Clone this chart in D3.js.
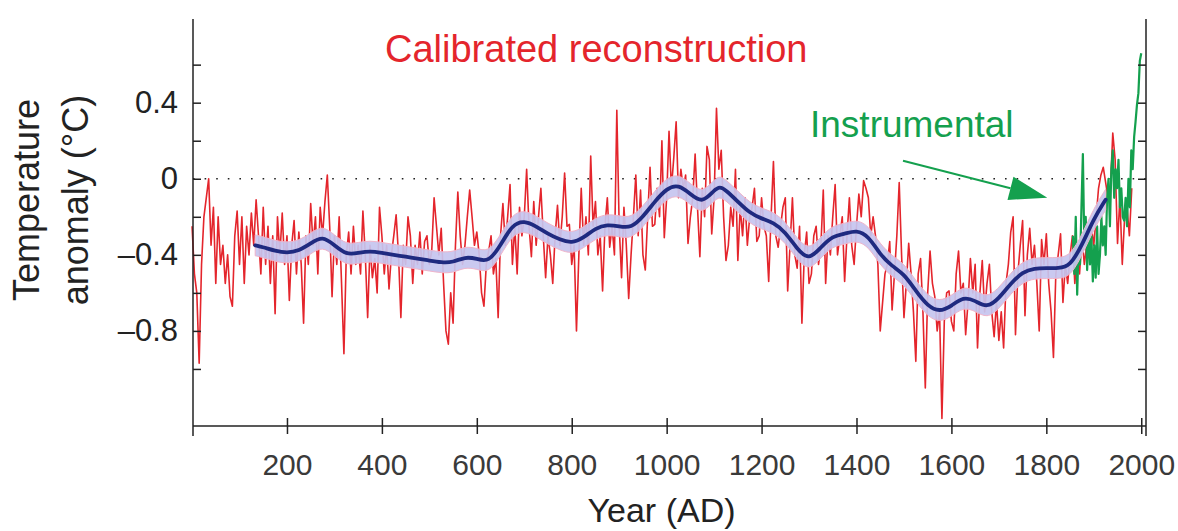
<!DOCTYPE html>
<html>
<head>
<meta charset="utf-8">
<script src="https://cdn.jsdelivr.net/npm/d3@7"></script>
<style>
  html, body { margin: 0; padding: 0; background: #ffffff; }
  svg { display: block; }
  text { font-family: "Liberation Sans", Arial, Helvetica, sans-serif; }
</style>
</head>
<body>
<svg id="chart" width="1178" height="531"></svg>
<script>
// ---------------- DATA ----------------
// Calibrated reconstruction (red), 5-year resolution starting at year 0
const reconStart = 0;
const reconStep = 5;
const reconValues = [
  -0.25,-0.50,-0.60,-0.97,-0.45,-0.20,-0.10, 0.00,-0.35,-0.15,
  -0.55,-0.20,-0.45,-0.35,-0.55,-0.40,-0.62,-0.67,-0.30,-0.17,
  -0.45,-0.20,-0.55,-0.25,-0.40,-0.18,-0.35,-0.11,-0.30,-0.50,
  -0.15,-0.45,-0.25,-0.55,-0.30,-0.71,-0.20,-0.40,-0.18,-0.45,
  -0.30,-0.64,-0.35,-0.22,-0.50,-0.28,-0.45,-0.76,-0.30,-0.45,
  -0.13,-0.35,-0.20,-0.50,-0.15,-0.30,-0.12, 0.02,-0.25,-0.62,
  -0.30,-0.45,-0.20,-0.55,-0.92,-0.40,-0.28,-0.50,-0.25,-0.45,
  -0.35,-0.50,-0.17,-0.40,-0.73,-0.35,-0.52,-0.42,-0.60,-0.15,
  -0.30,-0.50,-0.35,-0.58,-0.40,-0.30,-0.19,-0.40,-0.73,-0.35,
  -0.45,-0.20,-0.30,-0.55,-0.35,-0.45,-0.28,-0.50,-0.33,-0.30,
  -0.45,-0.38,-0.10,-0.25,-0.40,-0.26,-0.55,-0.80,-0.87,-0.60,
  -0.76,-0.35,-0.07,-0.30,-0.45,-0.35,-0.20,-0.06,-0.20,-0.35,
  -0.28,-0.40,-0.60,-0.67,-0.45,-0.38,-0.30,-0.50,-0.42,-0.73,
  -0.30,-0.13,-0.35,-0.20,-0.03,-0.45,-0.25,-0.50,-0.15,-0.30,
  -0.20, 0.05,-0.25,-0.41,-0.12,-0.35,-0.20,-0.05,-0.30,-0.52,
  -0.30,-0.40,-0.55,-0.30,-0.14,-0.35,-0.20, 0.03,-0.25,-0.24,
  -0.45,-0.35,-0.80,-0.40,-0.05,-0.35,-0.20,-0.40, 0.12,-0.25,
  -0.12,-0.40,-0.30,-0.59,-0.25,-0.10,-0.36,-0.25,-0.40, 0.36,
  -0.25,-0.52,-0.15,-0.35,-0.63,-0.40,-0.20, 0.02,-0.30,-0.06,
  -0.40,-0.48,-0.20, 0.06,-0.25,-0.24,-0.05,-0.20, 0.20,-0.31,
  -0.10, 0.25,-0.05, 0.11, 0.30,-0.10, 0.05,-0.05, 0.02,-0.34,
  -0.20,-0.10, 0.13,-0.15,-0.41,-0.05,-0.20, 0.17, 0.10,-0.29,
  -0.10, 0.37, 0.05, 0.15,-0.20,-0.43,-0.35,-0.15,-0.25, 0.05,
  -0.43,-0.15,-0.30,-0.10,-0.35,-0.20,-0.15,-0.05,-0.33,-0.30,
  -0.10,-0.25,-0.30,-0.54,-0.20, 0.09,-0.30,-0.36,-0.25,-0.15,
  -0.10,-0.59,-0.35,-0.10,-0.40,-0.47,-0.25,-0.76,-0.40,-0.28,
  -0.55,-0.50,-0.30,-0.25,-0.45,-0.35,-0.06,-0.55,-0.30,-0.40,
  -0.20,-0.03,-0.40,-0.30,-0.20,-0.54,-0.30,-0.10,-0.35,-0.45,
  -0.25,-0.08,-0.20,-0.01,-0.05,-0.10,-0.30,-0.20,-0.30,-0.45,
  -0.80,-0.65,-0.50,-0.45,-0.33,-0.69,-0.50,-0.30,-0.02,-0.40,
  -0.73,-0.55,-0.34,-0.50,-0.70,-0.96,-0.50,-0.42,-0.70,-1.10,
  -0.60,-0.38,-0.55,-0.62,-0.80,-0.70,-1.26,-0.75,-0.60,-0.59,
  -0.75,-0.80,-0.50,-0.38,-0.60,-0.55,-0.82,-0.65,-0.42,-0.60,
  -0.45,-0.89,-0.60,-0.43,-0.70,-0.55,-0.45,-0.70,-0.83,-0.65,
  -0.85,-0.70,-0.89,-0.55,-0.45,-0.28,-0.20,-0.82,-0.50,-0.35,
  -0.22,-0.72,-0.40,-0.26,-0.45,-0.35,-0.55,-0.80,-0.32,-0.45,
  -0.29,-0.55,-0.70,-0.94,-0.50,-0.40,-0.29,-0.65,-0.45,-0.55,
  -0.40,-0.30,-0.55,-0.40,-0.50,-0.30,-0.45,-0.35,-0.40,-0.25,
  -0.35,-0.20,-0.05, 0.02, 0.06,-0.02,-0.10,-0.05, 0.24, 0.10,
  -0.34,-0.10,-0.45,-0.20,-0.15,-0.30,-0.05
];

// Smoothed reconstruction (blue line) with its uncertainty band
const smoothYears = [133,150,175,200,225,250,275,300,325,350,375,400,425,450,475,500,525,550,575,600,
  625,650,675,700,725,750,775,800,825,850,875,900,925,950,975,1000,1025,1050,1075,1100,1112,1125,
  1150,1175,1200,1225,1250,1275,1300,1325,1350,1375,1400,1425,1450,1475,1500,1525,1550,1575,1600,
  1625,1650,1675,1700,1725,1750,1775,1800,1825,1850,1875,1900,1925];
const smoothValues = [-0.35,-0.36,-0.38,-0.39,-0.38,-0.34,-0.30,-0.35,-0.40,-0.39,-0.38,-0.39,-0.40,-0.41,-0.42,-0.43,-0.44,-0.44,-0.41,-0.42,
  -0.44,-0.35,-0.24,-0.22,-0.25,-0.29,-0.32,-0.34,-0.31,-0.26,-0.24,-0.25,-0.26,-0.20,-0.12,-0.05,-0.03,-0.08,-0.13,-0.06,-0.04,-0.06,
  -0.12,-0.18,-0.21,-0.23,-0.28,-0.37,-0.43,-0.36,-0.30,-0.29,-0.27,-0.30,-0.40,-0.46,-0.50,-0.59,-0.67,-0.70,-0.67,
  -0.62,-0.64,-0.68,-0.63,-0.55,-0.49,-0.47,-0.47,-0.47,-0.46,-0.35,-0.21,-0.11];
const bandHalfWidth = 0.055;

// Instrumental record (green)
const instrYears = [1856,1859,1862,1865,1868,1871,1874,1877,1880,1883,1886,1889,1892,1895,1898,1901,1904,1907,1910,1913,
  1916,1919,1922,1925,1928,1931,1934,1937,1940,1943,1946,1949,1952,1955,1958,1961,1964,1967,1970,1973,1976,1979,1982,
  1985,1988,1991,1994,1997,2000];
const instrValues = [-0.30,-0.50,-0.20,-0.61,-0.35,-0.45,-0.15,0.13,-0.35,-0.20,-0.48,-0.25,-0.45,-0.30,-0.54,-0.35,-0.52,-0.25,-0.50,-0.40,
  -0.20,-0.35,-0.25,-0.40,-0.10,0.00,-0.25,0.05,0.15,-0.10,0.05,-0.05,0.10,-0.15,-0.05,-0.20,-0.22,-0.10,-0.25,0.00,-0.15,0.15,0.05,
  0.22,0.30,0.39,0.45,0.62,0.66];

// Axes
const xTicks = [200,400,600,800,1000,1200,1400,1600,1800,2000];
const yTicks = [0.6,0.4,0.2,0,-0.2,-0.4,-0.6,-0.8,-1.0];
const yLabeled = [0.4,0,-0.4,-0.8];

// Texts
const titleRecon = "Calibrated reconstruction";
const titleInstr = "Instrumental";
const xTitle = "Year (AD)";
const yTitle1 = "Temperature";
const yTitle2 = "anomaly (°C)";
// arrow annotation in data coordinates: [year, value]
const arrowFrom = [1498, 0.095];
const arrowTo = [1802, -0.10];

// ---------------- CHART ----------------
const svg = d3.select("#chart");
const plotL = 193, plotR = 1146, plotT = 19, plotB = 426;

const x = d3.scaleLinear().domain([2, 2010]).range([plotL, plotR]);
const y = d3.scaleLinear().domain([-1.3, 0.84]).range([plotB, plotT]);

const reconData = reconValues.map((v, i) => ({ year: reconStart + i * reconStep, v }));
const smoothData = smoothYears.map((yr, i) => ({ year: yr, v: smoothValues[i] }));
const instrData = instrYears.map((yr, i) => ({ year: yr, v: instrValues[i] }));

const RED = "#e4252c", GREEN = "#14a04e", NAVY = "#1f2a80";

// zero dotted line
svg.append("line")
  .attr("x1", x(2)).attr("x2", x(2010))
  .attr("y1", y(0)).attr("y2", y(0))
  .attr("stroke", "#222").attr("stroke-width", 1.6)
  .attr("stroke-dasharray", "1.6,10");

// red reconstruction
const line = d3.line().x(d => x(d.year)).y(d => y(d.v));
svg.append("path").datum(reconData)
  .attr("d", line)
  .attr("fill", "none").attr("stroke", RED).attr("stroke-width", 1.6)
  .attr("stroke-linejoin", "round");

// green instrumental
svg.append("path").datum(instrData)
  .attr("d", line)
  .attr("fill", "none").attr("stroke", GREEN).attr("stroke-width", 2.2)
  .attr("stroke-linejoin", "round");

// uncertainty band
const area = d3.area().curve(d3.curveBasis)
  .x(d => x(d.year)).y0(d => y(d.v - bandHalfWidth)).y1(d => y(d.v + bandHalfWidth));
svg.append("path").datum(smoothData)
  .attr("d", area)
  .attr("fill", "#c6c4ef").attr("fill-opacity", 0.92)
  .attr("stroke", "#f0b4ca").attr("stroke-width", 1);

// blue smoothed line
const smoothLine = d3.line().curve(d3.curveBasis).x(d => x(d.year)).y(d => y(d.v));
svg.append("path").datum(smoothData)
  .attr("d", smoothLine)
  .attr("fill", "none").attr("stroke", NAVY).attr("stroke-width", 3.8)
  .attr("stroke-linecap", "round");

// axes frame lines
svg.append("line").attr("x1", plotL).attr("x2", plotL).attr("y1", plotT).attr("y2", plotB + 10)
  .attr("stroke", "#222").attr("stroke-width", 1.5);
svg.append("line").attr("x1", plotR).attr("x2", plotR).attr("y1", plotT).attr("y2", plotB + 10)
  .attr("stroke", "#222").attr("stroke-width", 1.5);

// bottom axis
const xAxis = d3.axisBottom(x).tickValues(xTicks).tickSize(8).tickPadding(20).tickSizeOuter(0)
  .tickFormat(d3.format("d"));
const gx = svg.append("g").attr("transform", `translate(0,${plotB})`).call(xAxis);
gx.select(".domain").attr("d", `M${plotL},0H${plotR}`).attr("stroke", "#222").attr("stroke-width", 1.5);
gx.selectAll(".tick line").attr("y1", -8).attr("y2", 8).attr("stroke", "#222").attr("stroke-width", 1.5);
gx.selectAll(".tick text").attr("font-size", 30).attr("fill", "#3a3a3a")
  .attr("font-family", "'Liberation Sans', Arial, Helvetica, sans-serif");

// left axis
const yAxis = d3.axisLeft(y).tickValues(yTicks).tickSize(-8).tickPadding(15).tickSizeOuter(0)
  .tickFormat(d => yLabeled.some(v => Math.abs(v - d) < 1e-9) ? (d < 0 ? "–" + d3.format("")(-d) : d3.format("")(d)) : "");
const gy = svg.append("g").attr("transform", `translate(${plotL},0)`).call(yAxis);
gy.select(".domain").remove();
gy.selectAll(".tick line").attr("stroke", "#222").attr("stroke-width", 1.5);
gy.selectAll(".tick text").attr("font-size", 31).attr("fill", "#222")
  .attr("font-family", "'Liberation Sans', Arial, Helvetica, sans-serif");

// right axis
const yAxisR = d3.axisRight(y).tickValues(yTicks).tickSize(-8).tickFormat("").tickSizeOuter(0);
const gyr = svg.append("g").attr("transform", `translate(${plotR},0)`).call(yAxisR);
gyr.select(".domain").remove();
gyr.selectAll(".tick line").attr("stroke", "#222").attr("stroke-width", 1.5);

// axis titles
svg.append("text").text(xTitle)
  .attr("x", (plotL + plotR) / 2 - 8).attr("y", 522)
  .attr("text-anchor", "middle").attr("font-size", 34).attr("fill", "#222");

svg.append("text").text(yTitle1)
  .attr("transform", "translate(39,200) rotate(-90)")
  .attr("text-anchor", "middle").attr("font-size", 36).attr("fill", "#222");
svg.append("text").text(yTitle2)
  .attr("transform", "translate(88,200) rotate(-90)")
  .attr("text-anchor", "middle").attr("font-size", 36).attr("fill", "#222");

// annotations
svg.append("text").text(titleRecon)
  .attr("x", 385).attr("y", 62).attr("font-size", 38).attr("fill", RED);
svg.append("text").text(titleInstr)
  .attr("x", 810).attr("y", 137).attr("font-size", 37).attr("fill", GREEN);

// arrow
const ax1 = x(arrowFrom[0]), ay1 = y(arrowFrom[1]);
const ax2 = x(arrowTo[0]), ay2 = y(arrowTo[1]);
const ang = Math.atan2(ay2 - ay1, ax2 - ax1);
const headLen = 38, headHalf = 12;
const bx = ax2 - headLen * Math.cos(ang), by = ay2 - headLen * Math.sin(ang);
svg.append("line").attr("x1", ax1).attr("y1", ay1).attr("x2", bx).attr("y2", by)
  .attr("stroke", GREEN).attr("stroke-width", 2);
svg.append("path")
  .attr("d", `M${ax2},${ay2}L${bx - headHalf * Math.sin(ang)},${by + headHalf * Math.cos(ang)}L${bx + headHalf * Math.sin(ang)},${by - headHalf * Math.cos(ang)}Z`)
  .attr("fill", GREEN);
</script>
</body>
</html>
